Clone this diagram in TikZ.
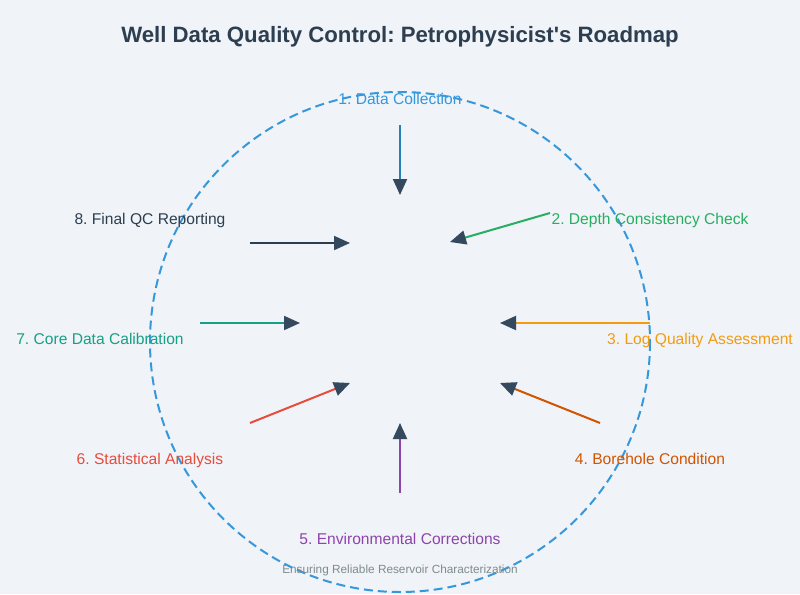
\documentclass[tikz,border=0pt]{standalone}
\usepackage{fontspec}
\setmainfont{Liberation Sans}
\usepackage{tikz}
\usetikzlibrary{arrows.meta}
\frenchspacing

\definecolor{bgcol}{HTML}{F0F3F8}
\definecolor{titlecol}{HTML}{2C3E50}
\definecolor{headcol}{HTML}{34495E}
\definecolor{ringcol}{HTML}{3498DB}
\definecolor{stepone}{HTML}{2980B9}
\definecolor{steptwo}{HTML}{27AE60}
\definecolor{stepthree}{HTML}{F39C12}
\definecolor{stepfour}{HTML}{D35400}
\definecolor{stepfive}{HTML}{8E44AD}
\definecolor{stepsix}{HTML}{E74C3C}
\definecolor{stepseven}{HTML}{16A085}
\definecolor{stepeight}{HTML}{2C3E50}
\definecolor{footcol}{HTML}{7F8C8D}

\begin{document}
\begin{tikzpicture}[x=1pt,y=-1pt,
    lbl/.style={font={\fontsize{15.6}{18}\selectfont}, inner sep=0pt, anchor=base},
    flow/.style={line width=2pt, -{Triangle[length=16pt,width=14pt,color=headcol]}}]
        \fill[bgcol] (0,0) rectangle (800,594);
        \useasboundingbox (0,0) rectangle (800,594);

        % ring
        \draw[ringcol, line width=2pt, dash pattern=on 9pt off 5pt] (400,342) circle (250);

        % title
        \node[font={\fontsize{22.2}{26}\selectfont\bfseries}, titlecol, inner sep=0pt, anchor=base] (title) at (400,43) {Well Data Quality Control: Petrophysicist\textquotesingle s Roadmap};

        % steps
        \node[lbl, ringcol] (s1) at (400,104) {1. Data Collection};
        \node[lbl, steptwo] (s2) at (650,224) {2. Depth Consistency Check};
        \node[lbl, stepthree] (s3) at (700,344) {3. Log Quality Assessment};
        \node[lbl, stepfour] (s4) at (650,464) {4. Borehole Condition};
        \node[lbl, stepfive] (s5) at (400,544) {5. Environmental Corrections};
        \node[lbl, stepsix] (s6) at (150,464) {6. Statistical Analysis};
        \node[lbl, stepseven] (s7) at (100,344) {7. Core Data Calibration};
        \node[lbl, stepeight] (s8) at (150,224) {8. Final QC Reporting};

        % arrow ends
        \coordinate (a1) at (400,125);
        \coordinate (b1) at (400,195);
        \coordinate (a2) at (550,213);
        \coordinate (b2) at (450,242);
        \coordinate (a3) at (650,323);
        \coordinate (b3) at (500,323);
        \coordinate (a4) at (600,423);
        \coordinate (b4) at (500,383);
        \coordinate (a5) at (400,493);
        \coordinate (b5) at (400,423);
        \coordinate (a6) at (250,423);
        \coordinate (b6) at (350,383);
        \coordinate (a7) at (200,323);
        \coordinate (b7) at (300,323);
        \coordinate (a8) at (250,243);
        \coordinate (b8) at (350,243);

        \draw[flow, stepone] (a1) -- (b1);
        \draw[flow, steptwo] (a2) -- (b2);
        \draw[flow, stepthree] (a3) -- (b3);
        \draw[flow, stepfour] (a4) -- (b4);
        \draw[flow, stepfive] (a5) -- (b5);
        \draw[flow, stepsix] (a6) -- (b6);
        \draw[flow, stepseven] (a7) -- (b7);
        \draw[flow, stepeight] (a8) -- (b8);

        % footer
        \node[font={\fontsize{11.8}{14}\selectfont}, footcol, inner sep=0pt, anchor=base] (foot) at (400,573) {Ensuring Reliable Reservoir Characterization};
    \end{tikzpicture}
\end{document}
